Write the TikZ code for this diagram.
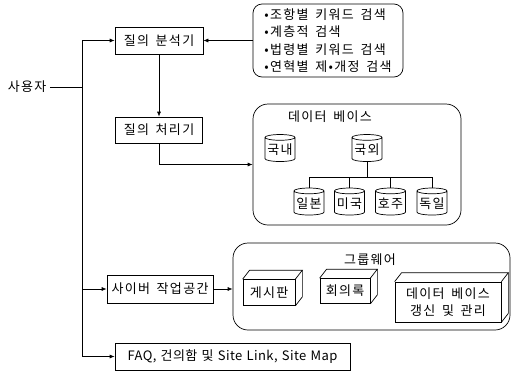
\documentclass[tikz,border=0pt]{standalone}
\usepackage{fontspec}
\setmainfont{Noto Sans CJK KR}[LetterSpace=10,WordSpace=1.6]
\newfontfamily\faqfont{Noto Sans CJK KR}[LetterSpace=3,WordSpace=1.3]
\usetikzlibrary{shapes.geometric,arrows.meta,calc}
\begin{document}
\begin{tikzpicture}[x=1pt,y=-1pt,
  font=\fontsize{13}{15}\selectfont,
  line width=0.7pt,
  box/.style={draw,rectangle,inner sep=1pt},
  rbox/.style={draw,rectangle,inner sep=3pt},
  cyl/.style={draw,cylinder,shape border rotate=90,aspect=0.22,minimum width=30pt,minimum height=27pt,inner sep=0.5pt},
  front/.style={draw,rectangle,inner sep=1pt,align=center},
  arr/.style={-{Latex[length=5pt,width=4pt]}}
]
\useasboundingbox (0,0) rectangle (512,373);

% left column
\node (user) at (27,87) {사용자};
\node[box,minimum width=88pt,minimum height=27pt] (ana) at (159,40.5) {질의 분석기};
\node[box,minimum width=87pt,minimum height=26pt] (proc) at (159,130) {질의 처리기};
\node[box,minimum width=106pt,minimum height=28pt] (cyber) at (160,289) {사이버 작업공간};
\node[box,minimum width=235pt,minimum height=27pt,font=\faqfont\fontsize{13}{15}\selectfont] (faq) at (232.5,356.5) {FAQ, 건의함 및 Site Link, Site Map};

% feature box
\node[rbox,rounded corners=9pt,minimum width=150pt,minimum height=73pt,align=left,
  font=\fontsize{13}{17.3}\selectfont] (feat) at (328,40.5)
  {•조항별 키워드 검색\\•계층적 검색\\•법령별 키워드 검색\\•연혁별 제•개정 검색};

% database box
\node[rbox,rounded corners=15pt,minimum width=208pt,minimum height=121pt] (db) at (357,164.5) {};
\node (dbt) at (330,117) {데이터 베이스};
\node[cyl] (kn) at (280,150) {국내};
\node[cyl] (kw) at (367,150) {국외};
\node[cyl] (jp) at (309,203.5) {일본};
\node[cyl] (us) at (349.5,203.5) {미국};
\node[cyl] (au) at (390.5,203.5) {호주};
\node[cyl] (de) at (432,203.5) {독일};
\coordinate (hb) at (0,177);
\draw (kw.south) -- (kw.south |- hb);
\draw (jp.north) -- (jp.north |- hb) -- (de.north |- hb) -- (de.north);
\draw (us.north) -- (us.north |- hb);
\draw (au.north) -- (au.north |- hb);

% groupware box
\node[rbox,rounded corners=15pt,minimum width=277pt,minimum height=87pt] (gw) at (371.5,286.5) {};
\node (gwt) at (370,260) {그룹웨어};
\node[front,minimum width=52pt,minimum height=26pt] (bb) at (269,292.5) {게시판};
\node[front,minimum width=50pt,minimum height=25pt] (mm) at (345,291) {회의록};
\node[front,minimum width=106pt,minimum height=40pt,font=\fontsize{13}{17}\selectfont] (du) at (448,302) {데이터 베이스\\갱신 및 관리};
\foreach \f in {bb,mm,du}{
  \draw (\f.north west) -- ++(7,-9) -- ($(\f.north east)+(7,-9)$) -- (\f.north east);
  \draw ($(\f.north east)+(7,-9)$) -- ($(\f.south east)+(7,-9)$) -- (\f.south east);
}

% connectors
\coordinate (tt) at (82,40.5);
\coordinate (tb) at (82,356.5);
\draw (user.east) -- (user.east -| tt);
\draw (tt) -- (tb);
\draw[arr] (tt) -- (ana.west);
\draw[arr] (tt |- cyber.west) -- (cyber.west);
\draw[arr] (tb) -- (faq.west);
\draw[arr] (feat.west) -- (ana.east);
\draw[arr] (ana.south) -- (proc.north);
\draw[arr] (proc.south) |- (db.west);
\draw[arr] (cyber.east) -- (cyber.east -| gw.west);
\end{tikzpicture}
\end{document}
